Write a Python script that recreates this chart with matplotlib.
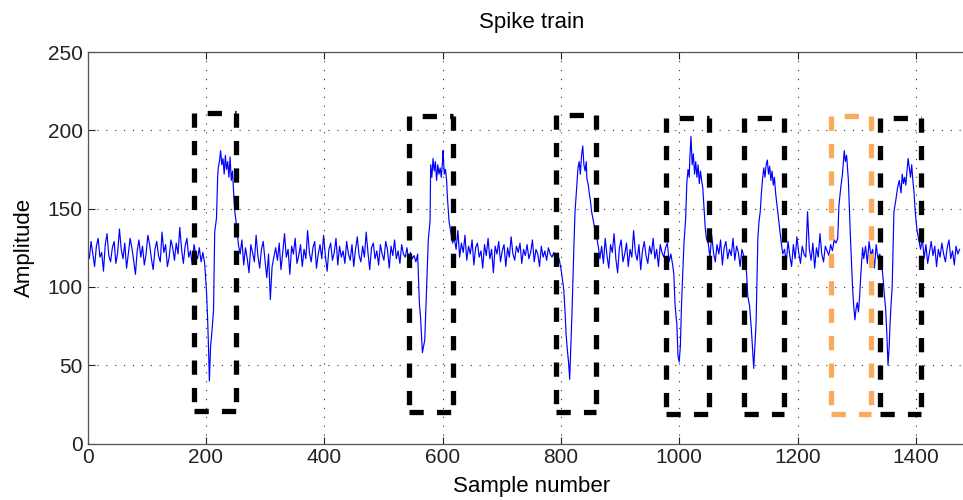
import matplotlib
matplotlib.use("Agg")
import matplotlib.pyplot as plt
import numpy as np

plt.rcParams['font.family'] = ['Liberation Sans', 'DejaVu Sans']

# baseline stretches, read every 3 samples: (first sample, values)
base_a_start = 0
base_a = [124, 118, 129, 121, 113, 126, 131, 119, 122, 110, 127, 134, 120, 116, 125, 129, 115, 122, 137, 124,
          118, 128, 112, 121, 131, 125, 117, 108, 123, 130, 119, 126, 114, 121, 133, 127, 118, 111, 124, 129,
          120, 116, 135, 122, 127, 113, 119, 130, 125, 117, 128, 121, 138, 124, 115, 126, 131, 119, 123, 114,
          127, 121, 118, 125, 116, 122]
base_b_start = 258
base_b = [121, 130, 114, 125, 118, 109, 127, 122, 116, 133, 120, 112, 124, 129, 117, 106, 121, 92, 113, 119,
          125, 117, 128, 111, 122, 134, 119, 124, 108, 126, 121, 131, 115, 120, 127, 113, 124, 118, 136, 122,
          116, 125, 129, 112, 121, 127, 118, 133, 120, 110, 124, 128, 117, 122, 131, 114, 126, 119, 123, 115,
          129, 121, 117, 127, 113, 124, 132, 120, 116, 126, 119, 135, 122, 111, 125, 128, 118, 123, 114, 127,
          121, 117, 129, 124, 112, 126, 120, 130, 118, 123, 115, 127, 121, 119, 125, 116, 122, 118, 120]
base_c_start = 620
base_c = [131, 124, 136, 119, 128, 122, 133, 117, 126, 121, 130, 114, 125, 128, 119, 123, 112, 127, 120, 131,
          118, 124, 109, 126, 121, 129, 116, 123, 127, 113, 125, 119, 132, 121, 117, 126, 122, 128, 115, 124,
          120, 127, 118, 122, 130, 116, 124, 121, 113, 126, 119, 123, 117, 125, 121, 119, 122, 115, 120, 118,
          112]
base_d_start = 869
base_d = [126, 115, 131, 120, 112, 127, 122, 134, 118, 109, 125, 130, 116, 121, 128, 113, 124, 119, 136, 122,
          117, 127, 111, 123, 129, 120, 115, 126, 121, 131, 118, 124, 113, 127, 122, 119, 125, 128, 116, 121]
base_e_start = 1049
base_e = [128, 119, 133, 122, 116, 127, 121, 130, 114, 125, 129, 118, 124, 120, 131, 117, 126, 122, 113, 124,
          120, 118]
base_f_start = 1178
base_f = [124, 116, 129, 120, 113, 127, 118, 132, 122, 115, 126, 121, 119, 148, 124, 117, 128, 112, 125, 119,
          134, 121, 116, 126, 123, 120]
base_g_start = 1315
base_g = [126, 115, 129, 120, 124, 112, 127, 118, 121]
base_h_start = 1408
base_h = [124, 131, 118, 127, 115, 122, 129, 120, 126, 113, 124, 119, 128, 121, 116, 125, 130, 118, 123, 114,
          126, 121, 124]

# spike waveforms: (sample, amplitude)
spike_1 = [(198, 115), (201, 98), (203, 80), (205, 55), (206, 40), (208, 62), (210, 70), (213, 85), (215, 135),
           (218, 144), (220, 170), (221, 176), (223, 180), (225, 187), (227, 178), (229, 182), (231, 172),
           (233, 184), (235, 175), (237, 180), (239, 170), (241, 183), (243, 168), (245, 174), (247, 160),
           (249, 148), (251, 142), (253, 135), (255, 127)]
spike_2 = [(555, 116), (558, 121), (561, 89), (563, 80), (566, 58), (568, 62), (570, 66), (573, 98), (576, 130),
           (579, 142), (580, 178), (582, 170), (584, 182), (586, 174), (588, 180), (590, 168), (592, 178),
           (594, 172), (596, 176), (598, 170), (600, 180), (601, 187), (603, 172), (605, 175), (607, 168),
           (608, 159), (611, 142), (614, 135), (617, 128)]
spike_3 = [(803, 104), (805, 98), (807, 85), (809, 69), (811, 60), (813, 52), (815, 41), (817, 64), (819, 85),
           (822, 125), (824, 148), (827, 165), (829, 176), (831, 180), (833, 172), (835, 184), (837, 190),
           (839, 178), (841, 174), (843, 180), (844, 169), (846, 166), (848, 160), (850, 155), (852, 148),
           (855, 142), (858, 136), (861, 131), (864, 124), (866, 118)]
spike_4 = [(989, 114), (991, 108), (993, 89), (995, 80), (996, 77), (998, 56), (1000, 52), (1002, 62),
           (1004, 89), (1006, 108), (1008, 127), (1011, 144), (1013, 167), (1015, 175), (1017, 170),
           (1018, 182), (1020, 196), (1022, 178), (1024, 185), (1026, 172), (1028, 180), (1030, 170),
           (1032, 178), (1034, 166), (1036, 174), (1038, 168), (1040, 163), (1042, 150), (1044, 138),
           (1046, 131)]
spike_5 = [(1114, 108), (1116, 94), (1119, 88), (1122, 73), (1124, 60), (1126, 48), (1128, 62), (1130, 77),
           (1133, 131), (1135, 142), (1137, 148), (1139, 160), (1141, 169), (1143, 176), (1145, 170),
           (1147, 178), (1149, 181), (1151, 172), (1153, 177), (1155, 168), (1157, 174), (1159, 165),
           (1161, 170), (1163, 160), (1166, 150), (1169, 140), (1172, 130), (1175, 121)]
spike_6 = [(1256, 127), (1259, 123), (1262, 130), (1265, 128), (1268, 131), (1270, 152), (1273, 163),
           (1276, 172), (1279, 187), (1281, 180), (1283, 184), (1286, 168), (1289, 136), (1291, 118),
           (1293, 100), (1295, 88), (1297, 79), (1299, 86), (1301, 90), (1303, 84), (1305, 94), (1307, 108),
           (1310, 125), (1312, 118)]
spike_7 = [(1342, 116), (1345, 104), (1347, 94), (1349, 86), (1351, 70), (1353, 50), (1355, 62), (1356, 73),
           (1358, 88), (1360, 100), (1363, 148), (1366, 155), (1369, 163), (1372, 168), (1375, 160),
           (1377, 172), (1379, 166), (1381, 170), (1383, 165), (1385, 174), (1387, 182), (1389, 176),
           (1391, 170), (1393, 178), (1395, 168), (1397, 160), (1399, 148), (1402, 136), (1405, 130)]

# detection boxes
box_left = [180, 544, 791, 977, 1109, 1256, 1340]
box_right = [251, 617, 860, 1050, 1177, 1325, 1408]
box_bottom = [21, 20, 20, 19, 19, 19, 19]
box_top = [211, 209, 210, 208, 208, 209, 208]
box_color = ['black', 'black', 'black', 'black', 'black', '#F9AA5B', 'black']

# assemble the trace
pieces = [(base_a_start, base_a), spike_1, (base_b_start, base_b), spike_2, (base_c_start, base_c), spike_3,
          (base_d_start, base_d), spike_4, (base_e_start, base_e), spike_5, (base_f_start, base_f), spike_6,
          (base_g_start, base_g), spike_7, (base_h_start, base_h)]
xs, ys = [], []
for p in pieces:
    if isinstance(p, tuple):
        start, vals = p
        xs += [start + 3 * i for i in range(len(vals))]
        ys += vals
    else:
        xs += [q[0] for q in p]
        ys += [q[1] for q in p]

fig = plt.figure(figsize=(9.63, 5.0), dpi=100)
ax = fig.add_axes([87.5 / 963, 1 - 443.5 / 500, 887.5 / 963, 391.5 / 500])

ax.plot(xs, ys, color='#0000FF', lw=0.85)

# each side drawn on its own so the dashes sit like the matlab ones
dash = (2.7, 2.5)
for l, r, b, t, c in zip(box_left, box_right, box_bottom, box_top, box_color):
    kw = dict(color=c, lw=3.8, zorder=3, solid_capstyle='butt')
    ax.plot([l, r], [b, b], linestyle=(0, dash), **kw)
    ax.plot([l, r], [t, t], linestyle=(dash[0], dash), **kw)
    ax.plot([l, l], [t, b], linestyle=(0, dash), **kw)
    ax.plot([r, r], [t, b], linestyle=(0, dash), **kw)

ax.set_xlim(0, 1500)
ax.set_ylim(0, 250)
ax.set_xticks(np.arange(0, 1401, 200))
ax.set_yticks(np.arange(0, 251, 50))
ax.grid(True, color='#333333', linestyle=(0, (1, 7)), lw=0.8)
ax.tick_params(direction='in', top=True, right=True, length=5, width=0.8, labelsize=15, colors='#222222')
for s in ax.spines.values():
    s.set_color('#555555')
    s.set_linewidth(0.9)

ax.set_title('Spike train', fontsize=16, pad=17)
ax.set_xlabel('Sample number', fontsize=16, labelpad=6)
ax.set_ylabel('Amplitude', fontsize=16, labelpad=9)

fig.savefig('out.png', dpi=100)
